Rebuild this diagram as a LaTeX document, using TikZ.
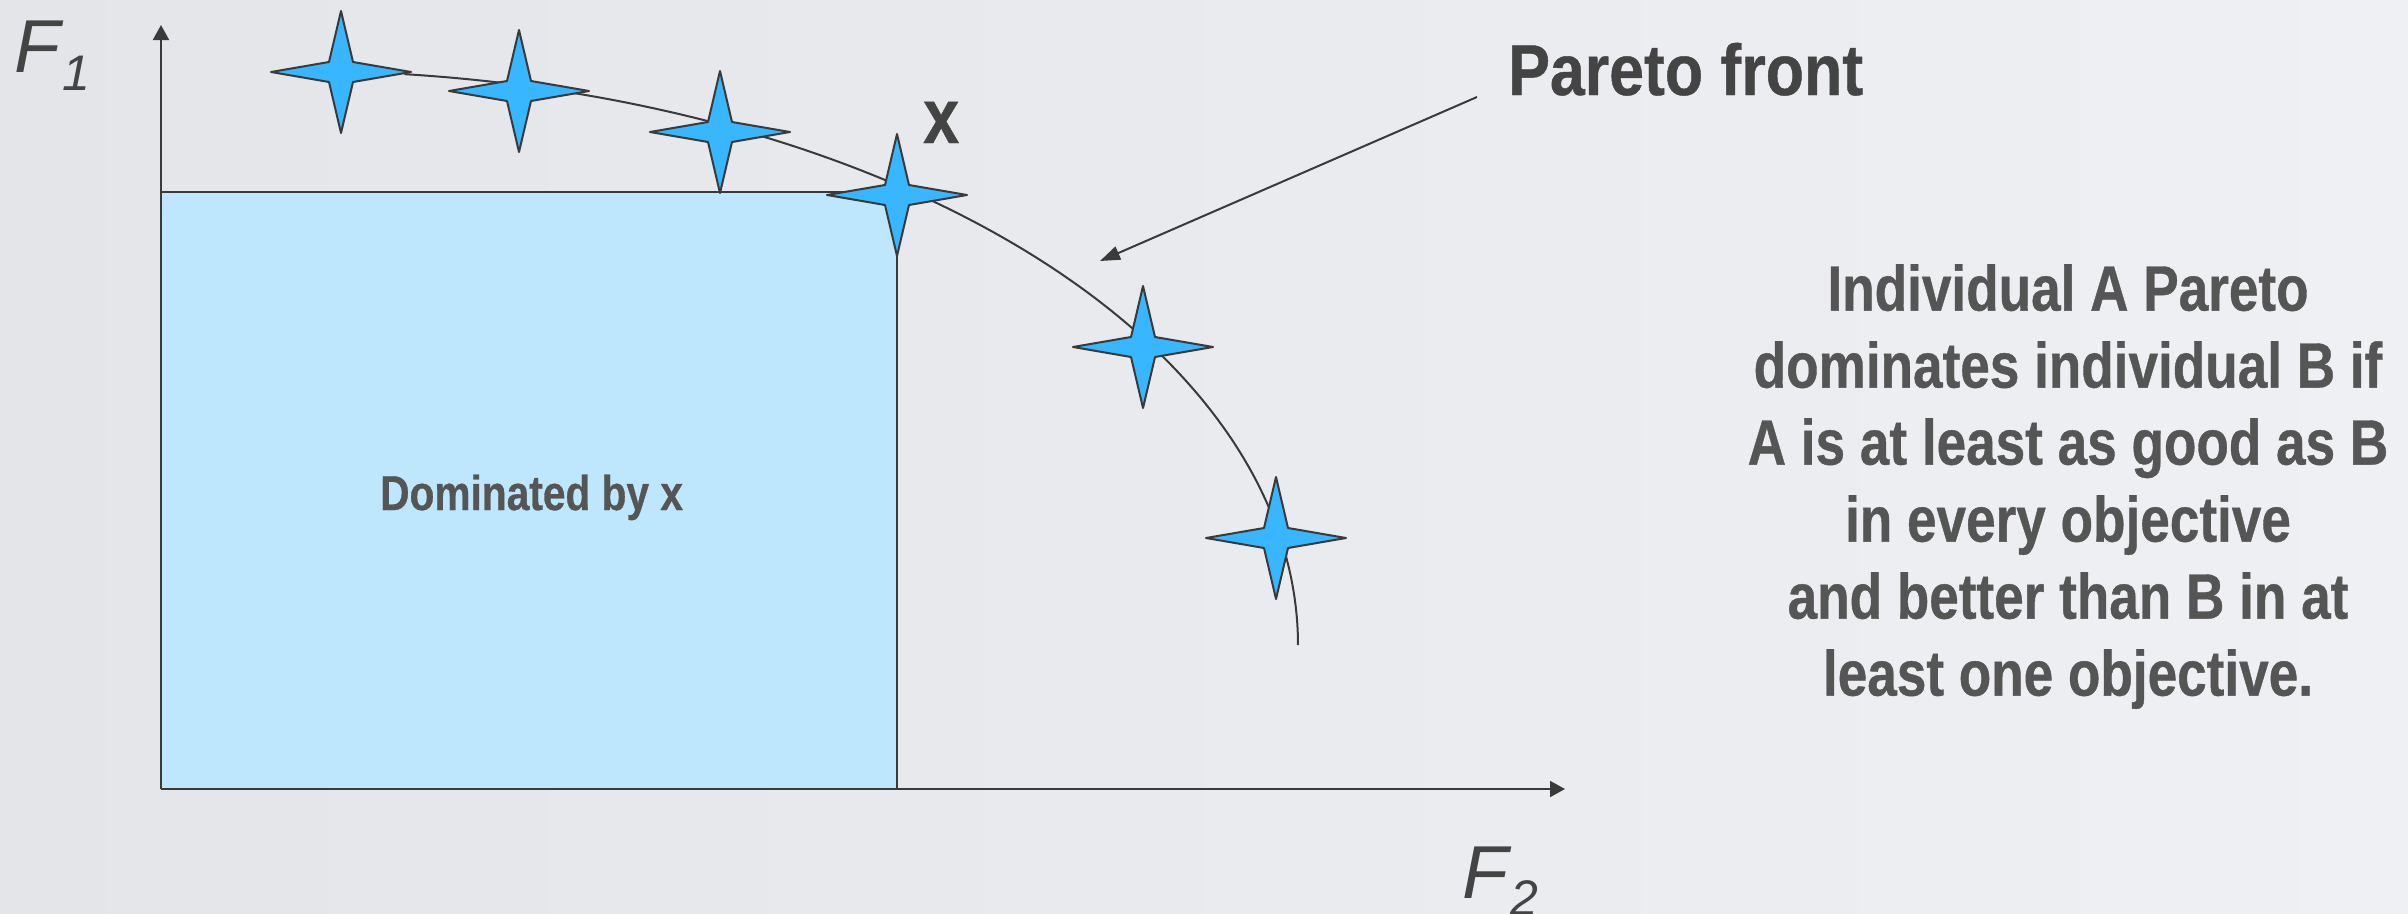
\documentclass[tikz,border=0pt]{standalone}
\usepackage{fontspec}
\usetikzlibrary{arrows.meta}
\newfontfamily\condf[FakeStretch=0.83, BoldFeatures={FakeBold=0.6}]{Liberation Sans}
\newfontfamily\condw[FakeStretch=0.87, BoldFeatures={FakeBold=0.6}]{Liberation Sans}
\newfontfamily\axisfont{Liberation Sans}
\definecolor{bgl}{HTML}{E3E5E9}
\definecolor{bgr}{HTML}{EFF0F3}
\definecolor{domfill}{HTML}{BEE6FD}
\definecolor{starfill}{HTML}{38B6FF}
\definecolor{ink}{HTML}{3A3A3A}
\definecolor{txt}{HTML}{555555}
\definecolor{txtdark}{HTML}{444444}
\tikzset{
  line/.style={draw=ink, line width=2pt},
  axis/.style={line, -{Triangle[length=15pt,width=16pt]}},
  pointer/.style={line, -{Triangle[length=20pt,width=14pt]}},
  spark/.pic={\path[draw=ink, line width=2pt, fill=starfill, line join=round]
    (0,-61) -- (12,-10) -- (70,0) -- (12,10) -- (0,61) -- (-12,10) -- (-70,0) -- (-12,-10) -- cycle;},
  boldtxt/.style={inner sep=0pt, font=\condf\bfseries},
  axislabel/.style={inner sep=0pt, text=txtdark, font=\axisfont\itshape\fontsize{75}{90}\selectfont},
}
\begin{document}
\begin{tikzpicture}[x=1pt,y=-1pt]
\useasboundingbox (0,0) rectangle (2408,913);
\shade[left color=bgl, right color=bgr] (0,0) rectangle (2408,913);

% coordinates
\coordinate (O) at (161,789);
\coordinate (Ytip) at (161,25);
\coordinate (Xtip) at (1565,789);
\coordinate (Ctop) at (161,192);
\coordinate (C) at (897,192);
\coordinate (Cbot) at (897,789);

% dominated region
\fill[domfill] (Ctop) rectangle (Cbot);
\draw[line] (Ctop) -- (C) -- (Cbot);

% axes
\draw[axis] (O) -- (Ytip);
\draw[axis] (O) -- (Xtip);

% Pareto front curve
\draw[line] plot[domain=84:0, samples=90, smooth] ({300+998*cos(\x)}, {645-574*sin(\x)});

% stars
\coordinate (s1) at (341,72);
\coordinate (s2) at (519,91);
\coordinate (s3) at (720,132);
\coordinate (s4) at (897,195);
\coordinate (s5) at (1143,347);
\coordinate (s6) at (1276,538);
\foreach \s in {s1,s2,s3,s4,s5,s6} \pic at (\s) {spark};

% pointer arrow
\coordinate (pa) at (1477,97);
\coordinate (pt) at (1100,261);
\draw[pointer] (pa) -- (pt);

% texts
\node[boldtxt, anchor=base west, text=txtdark, font=\condw\bfseries\fontsize{72}{86}\selectfont] (pf) at (1508,95) {Pareto front};
\node[boldtxt, anchor=base west, text=txtdark, font=\condf\bfseries\fontsize{78}{90}\selectfont] (xl) at (923,143) {x};
\node[boldtxt, anchor=base west, text=txt, font=\condf\bfseries\fontsize{49}{60}\selectfont] (dom) at (380,510) {Dominated by x};
\node[boldtxt, anchor=north, align=center, text=txt, font=\condf\bfseries\fontsize{64}{77}\selectfont] (def) at (2068,264)
  {Individual A Pareto\\dominates individual B if\\A is at least as good as B\\in every objective\\and better than B in at\\least one objective.};
\node[axislabel, anchor=base west] (f1) at (14,72) {F\kern2pt\raisebox{-18pt}{\fontsize{50}{60}\selectfont 1}};
\node[axislabel, anchor=base west] (f2) at (1462,898) {F\kern2pt\raisebox{-17pt}{\fontsize{50}{60}\selectfont 2}};
\end{tikzpicture}
\end{document}
